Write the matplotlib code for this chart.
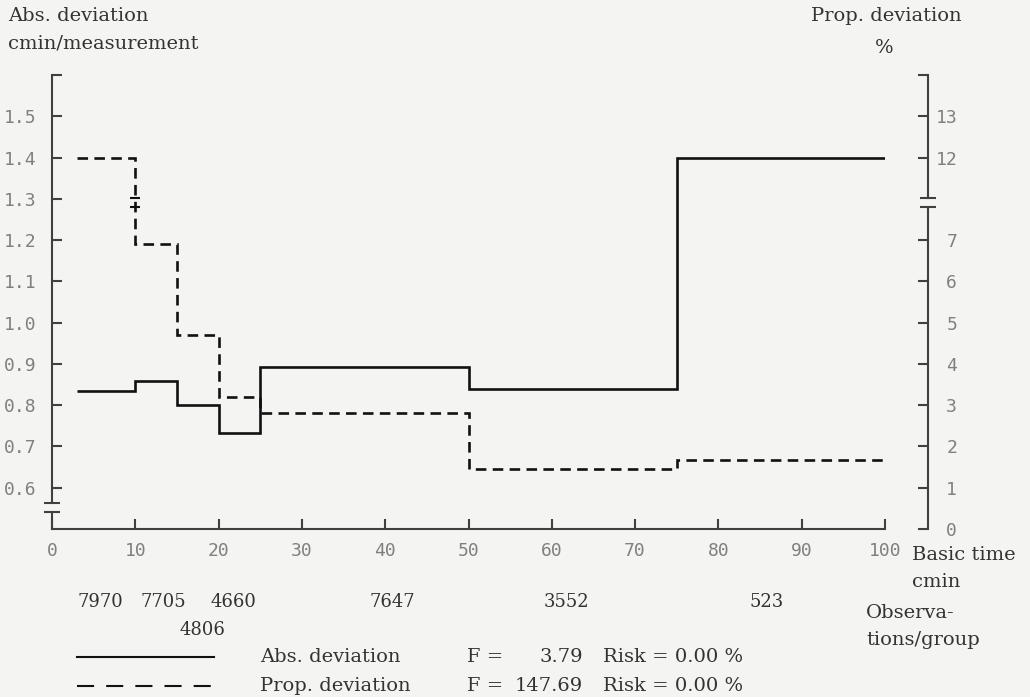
import matplotlib
matplotlib.use("Agg")
import matplotlib.pyplot as plt
import matplotlib.transforms as mtransforms
from matplotlib.lines import Line2D
import numpy as np

# group edges on the basic-time axis (cmin)
edges = [3, 10, 15, 20, 25, 50, 75, 100]
abs_dev = [0.834, 0.858, 0.80, 0.732, 0.892, 0.839, 1.40]   # cmin/measurement
prop_dev = [12.0, 6.9, 4.7, 3.2, 2.8, 1.45, 1.67]           # %

obs_labels = ["7970", "7705", "4660", "4806", "7647", "3552", "523"]
obs_x = [5.8, 13.4, 21.8, 18.0, 40.9, 61.7, 85.8]
obs_row = [0, 0, 0, 1, 0, 0, 0]

left_ticks = [0.6, 0.7, 0.8, 0.9, 1.0, 1.1, 1.2, 1.3, 1.4, 1.5]
right_ticks = [0, 1, 2, 3, 4, 5, 6, 7, 12, 13]
x_ticks = [0, 10, 20, 30, 40, 50, 60, 70, 80, 90, 100]

legend_names = ["Abs. deviation", "Prop. deviation"]
f_values = [3.79, 147.69]
risk_values = [0.00, 0.00]

W, H = 1030, 697
BG = "#f4f4f2"
INK = "#111111"
TXT = "#333333"
TICK = "#808080"
SPINE = "#404040"
SERIF = "DejaVu Serif"
MONO = "DejaVu Sans Mono"


def prop_pos(v):
    # right scale is broken between 7 and 12 -> drop 3 units, then share left coords
    v = np.asarray(v, dtype=float)
    return 0.5 + np.where(v <= 7, v, v - 3) / 10.0


def fx(px):
    return px / W


def fy(py):
    return 1 - py / H


fig = plt.figure(figsize=(W / 100, H / 100), dpi=100, facecolor=BG)

ax = fig.add_axes([fx(52), fy(529), fx(885) - fx(52), fy(75) - fy(529)])
ax.set_facecolor("none")
ax.set_xlim(0, 100)
ax.set_ylim(0.5, 1.6)

for s in ["top", "right"]:
    ax.spines[s].set_visible(False)
for s in ["left", "bottom"]:
    ax.spines[s].set_color(SPINE)
    ax.spines[s].set_linewidth(1.5)

# broken left axis
brk_lo, brk_hi = 0.541, 0.563
ax.spines["left"].set_bounds(brk_hi, 1.6)
trans_l = mtransforms.blended_transform_factory(ax.transAxes, ax.transData)
ax.plot([0, 0], [0.5, brk_lo], color=SPINE, lw=1.5, transform=trans_l, clip_on=False)
ax.plot([0, 0], [brk_lo, brk_hi], ls="none", marker="_", ms=11, mew=1.5,
        color=SPINE, transform=trans_l, clip_on=False)

ax.set_xticks(x_ticks)
ax.set_xticklabels([str(t) for t in x_ticks])
ax.set_yticks(left_ticks + [1.6])
ax.set_yticklabels([f"{t:.1f}" for t in left_ticks] + [""])
ax.tick_params(axis="both", direction="in", length=7, width=1.5, color=SPINE,
               labelcolor=TICK, labelsize=13)
ax.tick_params(axis="y", pad=11)
ax.tick_params(axis="x", pad=9)
for lab in ax.get_xticklabels() + ax.get_yticklabels():
    lab.set_fontfamily(MONO)

# the two series
ax.stairs(abs_dev, edges, baseline=None, color=INK, lw=1.9)
ax.stairs(prop_pos(prop_dev), edges, baseline=None, color=INK, lw=1.9,
          linestyle=(0, (4, 2.4)))
# break mark on the dashed step at the first jump
ax.plot([edges[1], edges[1]], [1.279, 1.301], ls="none", marker="_", ms=7,
        mew=1.5, color=INK, clip_on=False)

# right axis (proportional deviation, %)
ax2 = fig.add_axes([fx(928) - 0.0001, fy(529), 0.0001, fy(75) - fy(529)])
ax2.set_facecolor("none")
ax2.set_ylim(0.5, 1.6)
ax2.set_xticks([])
for s in ["top", "left", "bottom"]:
    ax2.spines[s].set_visible(False)
ax2.spines["right"].set_color(SPINE)
ax2.spines["right"].set_linewidth(1.5)
rb_lo, rb_hi = 1.279, 1.301
ax2.spines["right"].set_bounds(rb_hi, 1.6)
trans_r = mtransforms.blended_transform_factory(ax2.transAxes, ax2.transData)
ax2.plot([1, 1], [0.5, rb_lo], color=SPINE, lw=1.5, transform=trans_r, clip_on=False)
ax2.plot([1, 1], [rb_lo, rb_hi], ls="none", marker="_", ms=11, mew=1.5,
         color=SPINE, transform=trans_r, clip_on=False)
ax2.yaxis.tick_right()
ax2.set_yticks(list(prop_pos(right_ticks)) + [1.6])
ax2.set_yticklabels([str(t) for t in right_ticks] + [""])
ax2.tick_params(axis="y", direction="in", length=7, width=1.5, color=SPINE,
                labelcolor=TICK, labelsize=13, pad=21)
for lab in ax2.get_yticklabels():
    lab.set_fontfamily(MONO)
    lab.set_horizontalalignment("right")

# axis titles
tkw = dict(family=SERIF, color=TXT, fontsize=14, va="center")
fig.text(fx(8), fy(16), "Abs. deviation", **tkw)
fig.text(fx(8), fy(44), "cmin/measurement", **tkw)
fig.text(fx(962), fy(16), "Prop. deviation", ha="right", **tkw)
fig.text(fx(884), fy(48), "%", ha="center", **tkw)
fig.text(fx(912), fy(555), "Basic time", **tkw)
fig.text(fx(912), fy(582), "cmin", **tkw)
fig.text(fx(866), fy(613), "Observa-", **tkw)
fig.text(fx(866), fy(640), "tions/group", **tkw)

# observations per group
trans_obs = mtransforms.blended_transform_factory(ax.transData, fig.transFigure)
for lab, xv, row in zip(obs_labels, obs_x, obs_row):
    ax.text(xv, fy(602 + 28 * row), lab, transform=trans_obs, ha="center",
            va="center", family=SERIF, color=TXT, fontsize=13)

# legend with F-test results
legend_styles = ["-", (0, (8.2, 5.8))]
for i, (name, fval, risk, ls) in enumerate(zip(legend_names, f_values, risk_values, legend_styles)):
    y = fy(657 + 29 * i)
    fig.add_artist(Line2D([fx(77), fx(214)], [y, y], color=INK, lw=1.5, ls=ls,
                          transform=fig.transFigure))
    fig.text(fx(260), y, name, **tkw)
    fig.text(fx(467), y, "F =", **tkw)
    fig.text(fx(583), y, f"{fval:.2f}", ha="right", **tkw)
    fig.text(fx(603), y, f"Risk = {risk:.2f} %", **tkw)

fig.savefig("out.png", dpi=100, facecolor=BG)
